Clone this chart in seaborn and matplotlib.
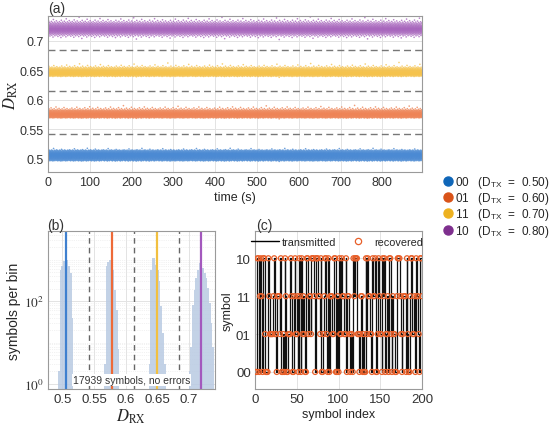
import numpy as np
import pandas as pd
import matplotlib
matplotlib.use("Agg")
import matplotlib.pyplot as plt
import seaborn as sns
from matplotlib.lines import Line2D
from matplotlib.ticker import FixedLocator, NullFormatter

# symbol levels, bottom to top in D_RX
symbols = ["00", "01", "11", "10"]
d_tx = [0.50, 0.60, 0.70, 0.80]
level_mean = [0.505, 0.578, 0.650, 0.720]
thresholds = [0.5415, 0.614, 0.685]

# received duty cycle histogram, counts per bin
bin_width = 0.0027
bin_start = [0.4930, 0.5660, 0.6365, 0.7000]
counts_00 = [2, 560, 700, 920, 1050, 1000, 700, 470, 39]
counts_01 = [3, 700, 900, 1000, 750, 560, 190, 62, 7]
counts_11 = [3, 570, 1090, 1100, 750, 570, 300, 75, 17, 3]
counts_10 = [2, 8, 80, 190, 360, 570, 830, 1000, 650, 470, 360, 205, 90, 30, 8]
level_counts = [counts_00, counts_01, counts_11, counts_10]

n_symbols = 17939
t_end = 895

# first 200 transmitted symbols, level index (0=00, 1=01, 2=11, 3=10)
tx_seq = [0, 0, 3, 3, 0, 2, 3, 2, 0, 3,
          3, 1, 0, 0, 0, 3, 2, 1, 1, 1,
          1, 2, 3, 1, 1, 0, 2, 2, 2, 1,
          3, 0, 0, 1, 0, 3, 2, 0, 0, 1,
          1, 1, 3, 2, 0, 0, 2, 3, 1, 1,
          2, 0, 3, 2, 0, 3, 1, 2, 1, 0,
          0, 3, 3, 1, 2, 2, 1, 3, 3, 3,
          2, 0, 3, 3, 3, 2, 2, 1, 3, 0,
          0, 1, 2, 3, 3, 1, 0, 3, 0, 2,
          2, 2, 1, 1, 3, 3, 0, 0, 2, 0,
          3, 1, 1, 3, 2, 2, 1, 1, 3, 0,
          2, 2, 1, 0, 1, 1, 0, 3, 2, 3,
          3, 3, 1, 1, 0, 1, 2, 2, 0, 1,
          0, 0, 3, 1, 3, 2, 2, 1, 1, 0,
          3, 2, 2, 3, 0, 0, 1, 3, 2, 1,
          1, 0, 3, 2, 3, 0, 1, 1, 2, 0,
          3, 3, 1, 0, 2, 1, 1, 0, 0, 2,
          3, 3, 3, 2, 1, 0, 1, 2, 2, 2,
          0, 3, 1, 0, 0, 2, 3, 3, 1, 1,
          2, 0, 3, 2, 2, 1, 0, 3, 3, 2]
rx_seq = list(tx_seq)  # no errors

# colours
dot_colors = ["#4b8ad3", "#ee8456", "#f5c34d", "#a866bd"]
marker_colors = ["#0f66b8", "#d95319", "#edb120", "#7e2f8e"]
line_colors = ["#3f80cf", "#ee6a38", "#f2c040", "#a358bd"]
hist_color = "#b9cae2"
grid_color = "#e3e3e3"
spine_color = "#9a9a9a"

sns.set_theme(style="white")
plt.rcParams["font.family"] = ["Liberation Sans", "DejaVu Sans"]
plt.rcParams["mathtext.fontset"] = "stix"
plt.rcParams["font.size"] = 9.5


def style_axes(ax):
    for sp in ax.spines.values():
        sp.set_color(spine_color)
        sp.set_linewidth(0.8)
    ax.tick_params(direction="in", length=3, color="#777777", labelsize=9.5,
                   labelcolor="#333333", pad=3)
    ax.set_axisbelow(True)


# expand histogram into individual received values
rows = []
for k, counts in enumerate(level_counts):
    vals = []
    for j, c in enumerate(counts):
        lo = bin_start[k] + j * bin_width
        vals.extend(lo + bin_width * (np.arange(c) + 0.5) / c)
    vals = np.array(vals)
    n = len(vals)
    # spread the values over time in a scrambled order
    h = (np.arange(n, dtype=np.uint64) * np.uint64(2654435761) + np.uint64(k * 977)) % np.uint64(2 ** 32)
    order = np.argsort(h)
    times = np.linspace(0, t_end, n) + k * t_end / (4.0 * n)
    for t, v in zip(times, vals[order]):
        rows.append((t, v, symbols[k]))
df = pd.DataFrame(rows, columns=["time", "drx", "symbol"])

hist_df = pd.DataFrame({
    "drx": [bin_start[k] + (j + 0.5) * bin_width for k, c in enumerate(level_counts) for j in range(len(c))],
    "count": [v for c in level_counts for v in c],
})
hist_edges = sorted(set(np.round([bin_start[k] + j * bin_width for k, c in enumerate(level_counts)
                                  for j in range(len(c) + 1)], 6)))

fig = plt.figure(figsize=(5.5, 4.27), dpi=100)
W, H = 550.0, 427.0
ax_a = fig.add_axes([48 / W, 1 - 173 / H, 374 / W, 156 / H])
ax_b = fig.add_axes([48 / W, 1 - 390 / H, 167 / W, 158 / H])
ax_c = fig.add_axes([255 / W, 1 - 390 / H, 167 / W, 158 / H])

# (a) received duty cycle over time
sns.scatterplot(data=df, x="time", y="drx", hue="symbol", palette=dot_colors,
                hue_order=symbols, s=1.4, linewidth=0, alpha=0.8,
                legend=False, ax=ax_a, rasterized=True)
for th in thresholds:
    ax_a.axhline(th, color="#777777", ls=(0, (5, 3)), lw=1.0)
ax_a.set_xlim(0, t_end)
ax_a.set_ylim(0.477, 0.742)
ax_a.set_xticks(range(0, 900, 100))
ax_a.set_yticks([0.5, 0.55, 0.6, 0.65, 0.7])
ax_a.set_yticklabels(["0.5", "0.55", "0.6", "0.65", "0.7"])
ax_a.grid(True, color=grid_color, lw=0.7)
ax_a.set_xlabel("time (s)", fontsize=9, labelpad=2)
ax_a.set_ylabel(r"$D_{\mathrm{RX}}$", fontsize=12, labelpad=0)
style_axes(ax_a)
ax_a.tick_params(labelsize=9)

# (b) histogram of received values
sns.histplot(data=hist_df, x="drx", weights="count", bins=hist_edges,
             color=hist_color, alpha=0.85, edgecolor="none", ax=ax_b)
ax_b.set_yscale("log")
for th in thresholds:
    ax_b.axvline(th, color="#666666", ls=(0, (4, 3)), lw=1.0)
for m, c in zip(level_mean, line_colors):
    ax_b.axvline(m, color=c, lw=1.6)
ax_b.set_xlim(0.477, 0.742)
ax_b.set_ylim(0.75, 5000)
ax_b.set_xticks([0.5, 0.55, 0.6, 0.65, 0.7])
ax_b.set_xticklabels(["0.5", "0.55", "0.6", "0.65", "0.7"])
ax_b.yaxis.set_major_locator(FixedLocator([1, 100]))
ax_b.set_yticklabels([r"$10^0$", r"$10^2$"])
minor = [m * 10 ** e for e in range(0, 4) for m in range(2, 10)] + [10, 1000]
ax_b.yaxis.set_minor_locator(FixedLocator(minor))
ax_b.yaxis.set_minor_formatter(NullFormatter())
ax_b.grid(True, which="major", color=grid_color, lw=0.7)
ax_b.grid(True, which="minor", axis="y", color="#e6e6e6", lw=0.5, ls=":")
ax_b.set_xlabel(r"$D_{\mathrm{RX}}$", fontsize=12, labelpad=1)
ax_b.set_ylabel("symbols per bin", fontsize=10, labelpad=2)
ax_b.text(0.5, 0.025, f"{n_symbols} symbols, no errors", transform=ax_b.transAxes,
          ha="center", va="bottom", fontsize=7.5, color="#333333",
          bbox=dict(facecolor="white", edgecolor="none", pad=0.8))
style_axes(ax_b)
ax_b.tick_params(which="minor", length=1.5, direction="in")

# (c) transmitted vs recovered symbols
idx = np.arange(1, len(tx_seq) + 1)
sns.lineplot(x=idx, y=tx_seq, drawstyle="steps-mid", color="#111111", lw=0.9, ax=ax_c)
sns.scatterplot(x=idx, y=rx_seq, marker="o", s=13, facecolors="none",
                edgecolors="#e8602a", linewidth=0.9, ax=ax_c, zorder=3)
ax_c.set_xlim(0, 200)
ax_c.set_ylim(-0.45, 3.72)
ax_c.set_xticks([0, 50, 100, 150, 200])
ax_c.set_yticks([0, 1, 2, 3])
ax_c.set_yticklabels(symbols)
ax_c.grid(True, color=grid_color, lw=0.7)
ax_c.set_xlabel("symbol index", fontsize=9, labelpad=2)
ax_c.set_ylabel("symbol", fontsize=9, labelpad=2)
style_axes(ax_c)
leg_h = [Line2D([], [], color="black", lw=1.0),
         Line2D([], [], ls="", marker="o", ms=4.5, mfc="none", mec="#e8602a", mew=0.9)]
fig.legend(leg_h, ["transmitted", "recovered"], loc="upper left",
           bbox_to_anchor=(251 / W, 1 - 238 / H), ncol=2, frameon=False, fontsize=7.8,
           borderpad=0, borderaxespad=0, handlelength=2.6, handletextpad=0.2,
           columnspacing=0.8)

# level legend
lev_h = [Line2D([], [], ls="", marker="o", ms=6.5, mfc=c, mec=c) for c in marker_colors]
lev_l = [f"{s}   (D$_\\mathregular{{TX}}$  =  {d:.2f})" for s, d in zip(symbols, d_tx)]
fig.legend(lev_h, lev_l, loc="upper left", bbox_to_anchor=(443 / W, 1 - 175 / H),
           frameon=False, fontsize=8.5, handletextpad=0.1, labelspacing=0.02,
           handlelength=0.9, borderpad=0, borderaxespad=0)

# panel letters
fig.text(48 / W, 1 - 9 / H, "(a)", fontsize=10, va="center", ha="left", color="#333333")
fig.text(47 / W, 1 - 226 / H, "(b)", fontsize=10, va="center", ha="left", color="#333333")
fig.text(256 / W, 1 - 226 / H, "(c)", fontsize=10, va="center", ha="left", color="#333333")

fig.savefig("out.png", dpi=100)
